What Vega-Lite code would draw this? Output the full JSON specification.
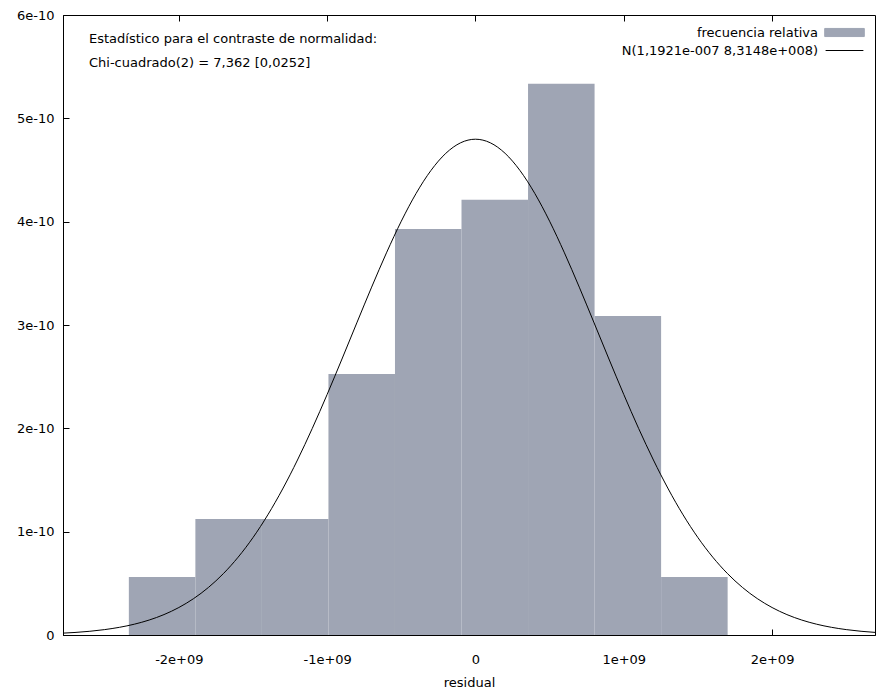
{
  "$schema": "https://vega.github.io/schema/vega-lite/v6.json",
  "width": 812,
  "height": 620,
  "autosize": {"type": "none"},
  "padding": {"left": 63, "top": 15, "right": 1, "bottom": 54},
  "background": "white",
  "title": {
    "text": ["Estadístico para el contraste de normalidad:", "Chi-cuadrado(2) = 7,362 [0,0252]"],
    "orient": "top",
    "anchor": "start",
    "frame": "group",
    "baseline": "top",
    "offset": 0,
    "dx": 26,
    "dy": 61,
    "lineHeight": 24,
    "font": "DejaVu Sans",
    "fontSize": 13,
    "fontWeight": "normal",
    "color": "black"
  },
  "config": {
    "font": "DejaVu Sans",
    "view": {"stroke": "black", "strokeWidth": 1},
    "axis": {
      "grid": false,
      "domainColor": "black",
      "tickColor": "black",
      "labelColor": "black",
      "titleColor": "black",
      "labelFont": "DejaVu Sans",
      "titleFont": "DejaVu Sans",
      "labelFontSize": 13,
      "titleFontSize": 13,
      "titleFontWeight": "normal",
      "tickSize": -6
    },
    "legend": {
      "labelFont": "DejaVu Sans",
      "labelFontSize": 13,
      "labelColor": "black"
    }
  },
  "datasets": {
    "bins": [
      {"lo": -2.337e9, "hi": -1.8884e9, "density": 0.5615e-10},
      {"lo": -1.8884e9, "hi": -1.4398e9, "density": 1.123e-10},
      {"lo": -1.4398e9, "hi": -0.9912e9, "density": 1.123e-10},
      {"lo": -0.9912e9, "hi": -0.5426e9, "density": 2.527e-10},
      {"lo": -0.5426e9, "hi": -0.094e9, "density": 3.93e-10},
      {"lo": -0.094e9, "hi": 0.3546e9, "density": 4.211e-10},
      {"lo": 0.3546e9, "hi": 0.8032e9, "density": 5.334e-10},
      {"lo": 0.8032e9, "hi": 1.2518e9, "density": 3.088e-10},
      {"lo": 1.2518e9, "hi": 1.7004e9, "density": 0.5615e-10}
    ],
    "curve": [
      {"x": -2.8e9, "y": 0.0166e-10},
      {"x": -2.7e9, "y": 0.0246e-10},
      {"x": -2.6e9, "y": 0.0361e-10},
      {"x": -2.5e9, "y": 0.0523e-10},
      {"x": -2.4e9, "y": 0.0745e-10},
      {"x": -2.3e9, "y": 0.1046e-10},
      {"x": -2.2e9, "y": 0.1448e-10},
      {"x": -2.1e9, "y": 0.1976e-10},
      {"x": -2.0e9, "y": 0.2659e-10},
      {"x": -1.9e9, "y": 0.3525e-10},
      {"x": -1.8e9, "y": 0.4607e-10},
      {"x": -1.7e9, "y": 0.5934e-10},
      {"x": -1.6e9, "y": 0.7534e-10},
      {"x": -1.5e9, "y": 0.9427e-10},
      {"x": -1.4e9, "y": 1.1627e-10},
      {"x": -1.3e9, "y": 1.4134e-10},
      {"x": -1.2e9, "y": 1.6935e-10},
      {"x": -1.1e9, "y": 1.9999e-10},
      {"x": -1.0e9, "y": 2.328e-10},
      {"x": -0.9e9, "y": 2.6709e-10},
      {"x": -0.8e9, "y": 3.0203e-10},
      {"x": -0.7e9, "y": 3.3664e-10},
      {"x": -0.6e9, "y": 3.6982e-10},
      {"x": -0.5e9, "y": 4.0044e-10},
      {"x": -0.4e9, "y": 4.2737e-10},
      {"x": -0.3e9, "y": 4.4956e-10},
      {"x": -0.2e9, "y": 4.6612e-10},
      {"x": -0.1e9, "y": 4.7634e-10},
      {"x": 0, "y": 4.798e-10},
      {"x": 0.1e9, "y": 4.7634e-10},
      {"x": 0.2e9, "y": 4.6612e-10},
      {"x": 0.3e9, "y": 4.4956e-10},
      {"x": 0.4e9, "y": 4.2737e-10},
      {"x": 0.5e9, "y": 4.0044e-10},
      {"x": 0.6e9, "y": 3.6982e-10},
      {"x": 0.7e9, "y": 3.3664e-10},
      {"x": 0.8e9, "y": 3.0203e-10},
      {"x": 0.9e9, "y": 2.6709e-10},
      {"x": 1.0e9, "y": 2.328e-10},
      {"x": 1.1e9, "y": 1.9999e-10},
      {"x": 1.2e9, "y": 1.6935e-10},
      {"x": 1.3e9, "y": 1.4134e-10},
      {"x": 1.4e9, "y": 1.1627e-10},
      {"x": 1.5e9, "y": 0.9427e-10},
      {"x": 1.6e9, "y": 0.7534e-10},
      {"x": 1.7e9, "y": 0.5934e-10},
      {"x": 1.8e9, "y": 0.4607e-10},
      {"x": 1.9e9, "y": 0.3525e-10},
      {"x": 2.0e9, "y": 0.2659e-10},
      {"x": 2.1e9, "y": 0.1976e-10},
      {"x": 2.2e9, "y": 0.1448e-10},
      {"x": 2.3e9, "y": 0.1046e-10},
      {"x": 2.4e9, "y": 0.0745e-10},
      {"x": 2.5e9, "y": 0.0523e-10},
      {"x": 2.6e9, "y": 0.0361e-10},
      {"x": 2.7e9, "y": 0.0246e-10},
      {"x": 2.8e9, "y": 0.0166e-10}
    ]
  },
  "layer": [
    {
      "data": {"name": "bins"},
      "mark": {"type": "bar", "clip": true},
      "encoding": {
        "x": {
          "field": "lo", "type": "quantitative",
          "scale": {"domain": [-2.781e9, 2.694e9], "nice": false, "zero": false},
          "axis": {
            "orient": "bottom",
            "title": "residual",
            "values": [-2e9, -1e9, 0, 1e9, 2e9],
            "labelExpr": "datum.value === 0 ? '0' : (datum.value < 0 ? '-' : '') + replace(format(abs(datum.value), '~e'), 'e+', 'e+0')",
            "labelPadding": 24,
            "titlePadding": 10
          }
        },
        "x2": {"field": "hi"},
        "y": {
          "field": "density", "type": "quantitative",
          "scale": {"domain": [0, 6e-10], "nice": false},
          "axis": {
            "title": null,
            "values": [0, 1e-10, 2e-10, 3e-10, 4e-10, 5e-10, 6e-10],
            "labelExpr": "datum.value === 0 ? '0' : format(datum.value, '~e')",
            "labelPadding": 15
          }
        },
        "y2": {"datum": 0},
        "color": {
          "datum": "frecuencia relativa",
          "type": "nominal",
          "scale": {
            "domain": ["frecuencia relativa", "N(1,1921e-007 8,3148e+008)"],
            "range": ["#9fa5b4", "black"]
          },
          "legend": {
            "title": null,
            "orient": "top-right",
            "offset": 8,
            "padding": 0,
            "rowPadding": 1,
            "symbolSize": 324,
            "labelLimit": 0,
            "labelAlign": "right",
            "labelOffset": -36,
            "symbolOffset": 19,
            "encode": {
              "symbols": {
                "update": {
                  "shape": {"signal": "datum.value === 'frecuencia relativa' ? 'M-2.2,-0.45H2.2V0.45H-2.2Z' : 'M-2.1,0H2.1'"},
                  "fill": {"signal": "datum.value === 'frecuencia relativa' ? '#9fa5b4' : 'transparent'"},
                  "stroke": {"signal": "datum.value === 'frecuencia relativa' ? 'transparent' : 'black'"},
                  "strokeWidth": {"value": 1},
                  "opacity": {"value": 1}
                }
              }
            }
          }
        }
      }
    },
    {
      "data": {"name": "curve"},
      "mark": {"type": "line", "clip": true, "strokeWidth": 1, "interpolate": "monotone"},
      "encoding": {
        "x": {"field": "x", "type": "quantitative",
          "axis": {"orient": "top", "labels": false, "title": null, "values": [-2e9, -1e9, 0, 1e9, 2e9], "domain": false}},
        "y": {"field": "y", "type": "quantitative"},
        "color": {"datum": "N(1,1921e-007 8,3148e+008)", "type": "nominal"}
      }
    }
  ]
}
